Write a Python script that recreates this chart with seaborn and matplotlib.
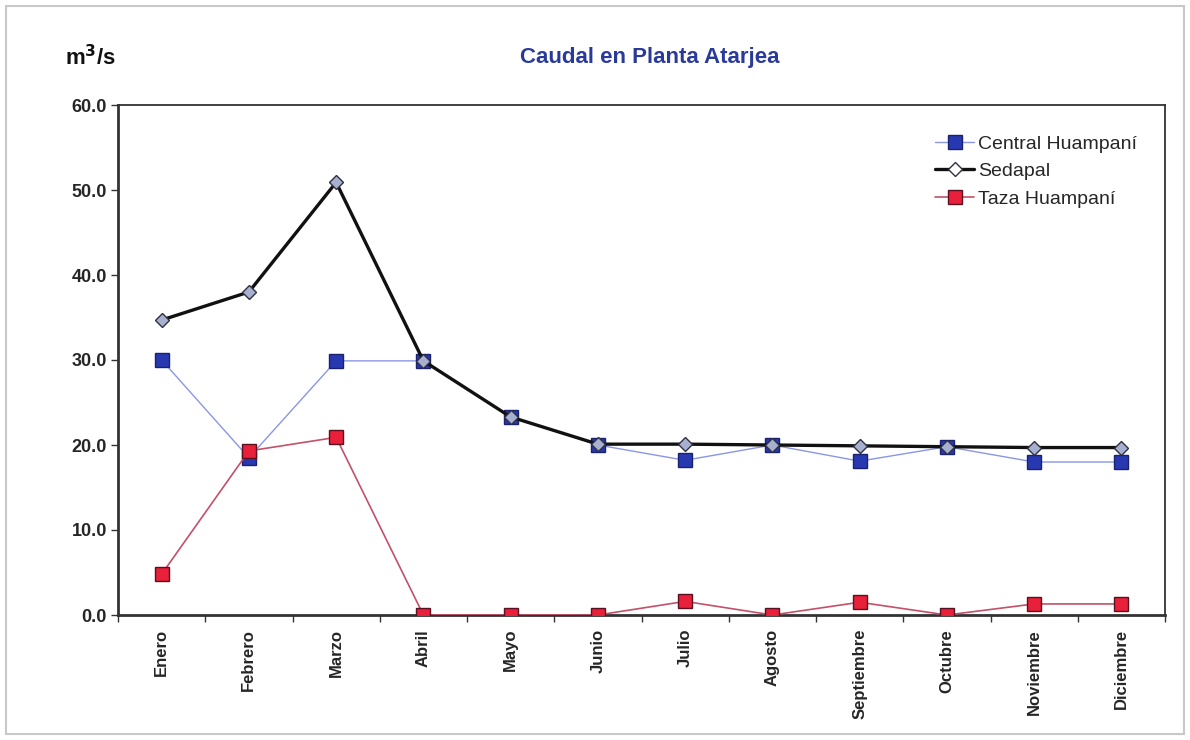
import matplotlib
matplotlib.use("Agg")
import matplotlib.pyplot as plt
import seaborn as sns
import pandas as pd
import numpy as np
from matplotlib.patches import Rectangle

meses = ["Enero", "Febrero", "Marzo", "Abril", "Mayo", "Junio", "Julio",
         "Agosto", "Septiembre", "Octubre", "Noviembre", "Diciembre"]
central = [30.0, 18.5, 29.9, 29.9, 23.3, 20.0, 18.2, 20.0, 18.1, 19.8, 18.0, 18.0]
sedapal = [34.7, 38.0, 50.9, 29.9, 23.3, 20.1, 20.1, 20.0, 19.9, 19.8, 19.7, 19.7]
taza = [4.8, 19.3, 20.9, 0.0, 0.0, 0.0, 1.6, 0.0, 1.5, 0.0, 1.3, 1.3]
yticks = [0, 10, 20, 30, 40, 50, 60]

sns.set_theme(style="white")
plt.rcParams['font.family'] = ['Liberation Sans', 'DejaVu Sans']

fig = plt.figure(figsize=(11.9, 7.4), dpi=100)
ax = fig.add_axes([118/1190, 1-615/740, (1165-118)/1190, (615-105)/740])

x = np.arange(len(meses))
df = pd.DataFrame({"x": x, "Central Huampaní": central, "Sedapal": sedapal, "Taza Huampaní": taza})

sns.lineplot(data=df, x="x", y="Central Huampaní", ax=ax, color="#8a96e6", lw=1.0,
             marker="s", markersize=9.5, markerfacecolor="#2838b0", markeredgecolor="#1a2270",
             markeredgewidth=1.0, label="Central Huampaní", zorder=3)
sns.lineplot(data=df, x="x", y="Taza Huampaní", ax=ax, color="#c4506a", lw=1.2,
             marker="s", markersize=9.5, markerfacecolor="#e8203a", markeredgecolor="#5a1020",
             markeredgewidth=1.0, label="Taza Huampaní", zorder=3)
sns.lineplot(data=df, x="x", y="Sedapal", ax=ax, color="#111111", lw=2.4,
             marker="D", markersize=7.5, markerfacecolor="#a8b0d0", markeredgecolor="#303040",
             markeredgewidth=1.0, label="Sedapal", zorder=4)

ax.set_xlim(-0.5, len(meses) - 0.5)
ax.set_ylim(0, 60)
ax.set_yticks(yticks)
ax.set_yticklabels([f"{v:.1f}" for v in yticks], fontsize=13, fontweight="bold")
ax.set_xticks(x)
ax.set_xticklabels(meses, rotation=90, fontsize=12, fontweight="bold")
ax.set_xticks(np.arange(-0.5, len(meses), 1.0), minor=True)
ax.tick_params(axis="x", which="major", length=0, pad=10)
ax.tick_params(axis="x", which="minor", length=5, width=1, color="#333333", direction="out", bottom=True)
ax.tick_params(axis="y", length=5, width=1, color="#333333", direction="out", left=True, pad=3)
ax.set_xlabel("")
ax.set_ylabel("")
for s in ax.spines.values():
    s.set_visible(True)
    s.set_color("#333333")
    s.set_linewidth(1.3)
ax.spines["left"].set_linewidth(2.0)
ax.spines["bottom"].set_linewidth(2.0)

handles, labels = ax.get_legend_handles_labels()
order = [labels.index(l) for l in ["Central Huampaní", "Sedapal", "Taza Huampaní"]]
leg = ax.legend([handles[i] for i in order], [labels[i] for i in order],
                loc="upper right", bbox_to_anchor=(0.99, 0.975), frameon=False,
                fontsize=14, handlelength=2.0, handletextpad=0.2, labelspacing=0.5)
leg.legend_handles[1].set_markerfacecolor("white")

fig.text(650/1190, 1-58/740, "Caudal en Planta Atarjea", ha="center", va="center",
         fontsize=16, fontweight="bold", color="#2a3a9a")
fig.text(65/1190, 1-58/740, "m$^\\mathbf{3}$/s", ha="left", va="center",
         fontsize=16, fontweight="bold", color="#111111")

fig.patches.append(Rectangle((6/1190, 6/740), 1-12/1190, 1-12/740, transform=fig.transFigure,
                             fill=False, edgecolor="#c8c8c8", lw=1.5))

fig.savefig("out.png", dpi=100)
